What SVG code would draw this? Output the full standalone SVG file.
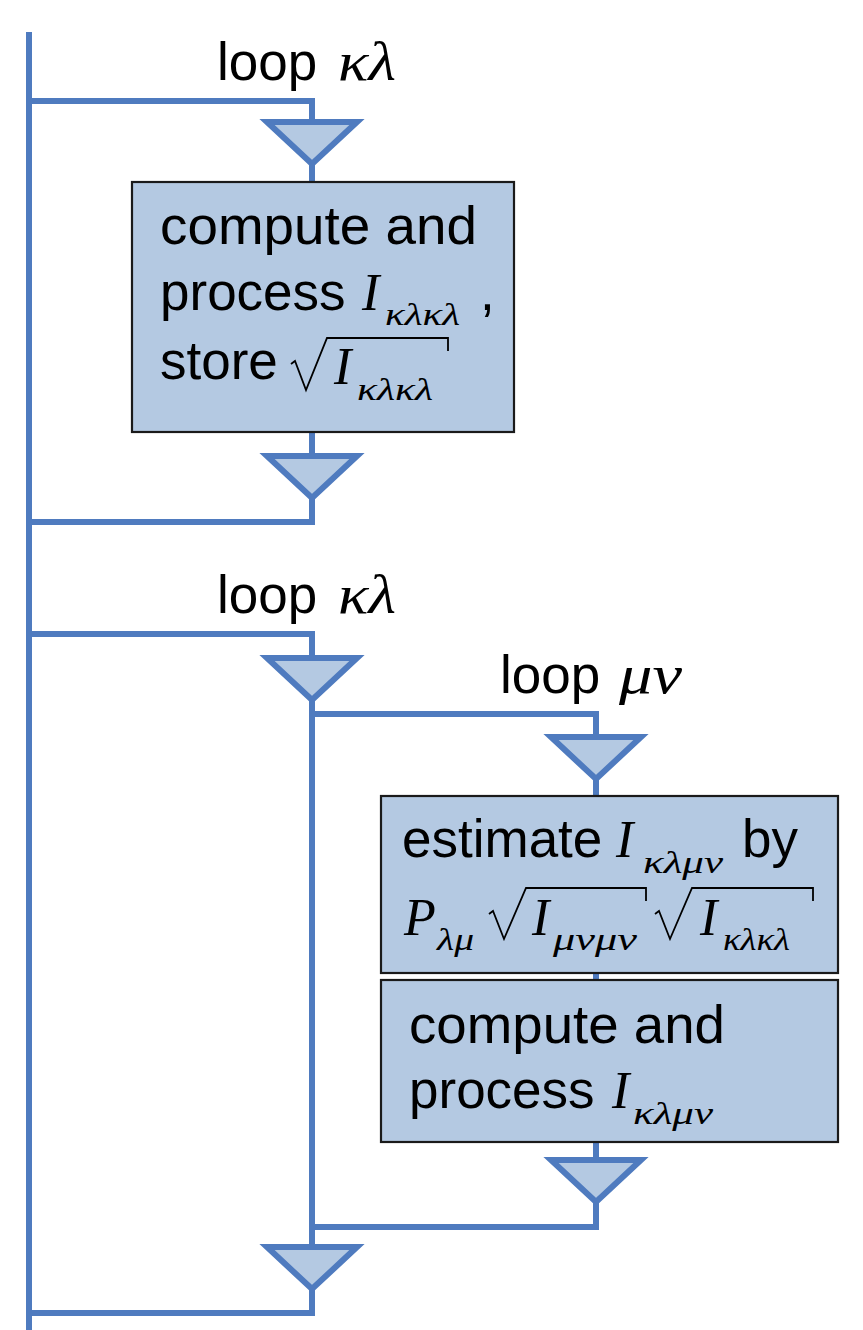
<svg xmlns="http://www.w3.org/2000/svg" width="863" height="1330" viewBox="0 0 863 1330">
<style>
.ln{fill:none;stroke:#4F7BBF;stroke-width:6;stroke-linejoin:miter}
.tri{fill:#B4C9E2;stroke:#4F7BBF;stroke-width:6;stroke-linejoin:miter}
.box{fill:#B4C9E2;stroke:#1a1a1a;stroke-width:2.2}
.t{font-family:"Liberation Sans",Arial,sans-serif;font-size:53px;fill:#000}
.m{font-family:"Liberation Serif","Times New Roman",serif;font-style:italic;fill:#000}
.big{font-size:52px}
.sub{font-size:32px}
.gl{font-size:54px}
.rad{fill:none;stroke:#000;stroke-width:1.8;stroke-linejoin:miter}
</style>
<defs>
<polygon id="tri" points="-45,0 45,0 0,42"/>
</defs>
<g id="connectors">
<path class="ln" d="M29,32 V1330"/>
<path class="ln" d="M29,101 H312 V122 M312,164 V182"/>
<path class="ln" d="M312,432 V456 M312,498 V522 H29"/>
<path class="ln" d="M29,634 H312 V658 M312,700 V1247 M312,1289 V1313 H29"/>
<path class="ln" d="M312,714 H596 V737 M596,779 V796"/>
<path class="ln" d="M596,973 V980"/>
<path class="ln" d="M596,1142 V1160 M596,1202 V1227 H312"/>
</g>
<g id="loop1-label">
<text class="t" x="217" y="80">loop</text>
<text class="m gl" x="338" y="80" textLength="58" lengthAdjust="spacingAndGlyphs">κλ</text>
</g>
<g id="tri1"><use href="#tri" class="tri" x="312" y="122"/></g>
<g id="box1">
<rect class="box" x="132" y="182" width="382" height="250"/>
<text class="t" x="160" y="244" textLength="317" lengthAdjust="spacingAndGlyphs">compute and</text>
<text class="t" x="160" y="310">process</text>
<text class="m big" x="362" y="310">I</text>
<text class="m sub" x="385" y="325" textLength="75" lengthAdjust="spacingAndGlyphs">κλκλ</text>
<text class="t" x="480" y="310">,</text>
<text class="t" x="160" y="379">store</text>
<polyline class="rad" points="291,364 295,361 306,390 327,338 448,338 448,351"/>
<text class="m big" x="334" y="384">I</text>
<text class="m sub" x="357" y="400" textLength="76" lengthAdjust="spacingAndGlyphs">κλκλ</text>
</g>
<g id="tri2"><use href="#tri" class="tri" x="312" y="456"/></g>
<g id="loop2-label">
<text class="t" x="217" y="613">loop</text>
<text class="m gl" x="338" y="613" textLength="58" lengthAdjust="spacingAndGlyphs">κλ</text>
</g>
<g id="tri3"><use href="#tri" class="tri" x="312" y="658"/></g>
<g id="loop3-label">
<text class="t" x="500" y="693">loop</text>
<text class="m gl" x="619" y="693" textLength="63" lengthAdjust="spacingAndGlyphs">μν</text>
</g>
<g id="tri4"><use href="#tri" class="tri" x="596" y="737"/></g>
<g id="box2">
<rect class="box" x="381" y="796" width="457" height="177"/>
<text class="t" x="402" y="857">estimate</text>
<text class="m big" x="616" y="857">I</text>
<text class="m sub" x="643" y="873" textLength="80" lengthAdjust="spacingAndGlyphs">κλμν</text>
<text class="t" x="742" y="857">by</text>
<text class="m big" x="404" y="935">P</text>
<text class="m sub" x="437" y="950" textLength="37" lengthAdjust="spacingAndGlyphs">λμ</text>
<polyline class="rad" points="489,914 493,911 504,939 526,888 646,888 646,901"/>
<text class="m big" x="532" y="935">I</text>
<text class="m sub" x="553" y="950" textLength="84" lengthAdjust="spacingAndGlyphs">μνμν</text>
<polyline class="rad" points="655,914 659,911 670,939 692,888 813,888 813,901"/>
<text class="m big" x="700" y="935">I</text>
<text class="m sub" x="723" y="950" textLength="67" lengthAdjust="spacingAndGlyphs">κλκλ</text>
</g>
<g id="box3">
<rect class="box" x="381" y="980" width="457" height="162"/>
<text class="t" x="409" y="1043" textLength="316" lengthAdjust="spacingAndGlyphs">compute and</text>
<text class="t" x="409" y="1108">process</text>
<text class="m big" x="612" y="1108">I</text>
<text class="m sub" x="633" y="1124" textLength="80" lengthAdjust="spacingAndGlyphs">κλμν</text>
</g>
<g id="tri5"><use href="#tri" class="tri" x="596" y="1160"/></g>
<g id="tri6"><use href="#tri" class="tri" x="312" y="1247"/></g>
</svg>
